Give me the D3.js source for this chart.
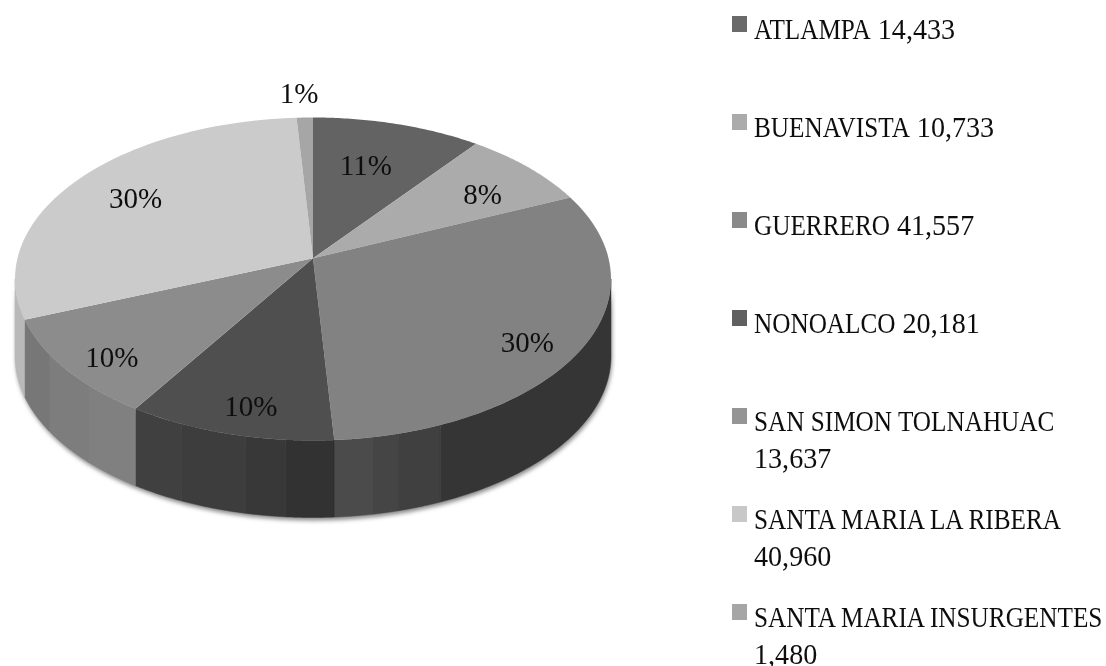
<!DOCTYPE html>
<html>
<head>
<meta charset="utf-8">
<script src="https://cdn.jsdelivr.net/npm/d3@7"></script>
<style>
  html, body { margin: 0; background: #fff; }
  text { font-family: "Liberation Serif", serif; fill: #111; }
</style>
</head>
<body>
<svg id="chart"></svg>
<script>
// values
const districts = ["ATLAMPA", "BUENAVISTA", "GUERRERO", "NONOALCO", "SAN SIMON TOLNAHUAC", "SANTA MARIA LA RIBERA", "SANTA MARIA INSURGENTES"];
const population = [14433, 10733, 41557, 20181, 13637, 40960, 1480];
const percentLabels = [11, 8, 30, 10, 10, 30, 1];
// slice sizes as measured on the drawn pie, they differ a little from the printed labels
const sliceShares = [10.4, 8, 30.6, 10, 10, 30, 1];

const topColors = ["#636363", "#ababab", "#828282", "#505050", "#8c8c8c", "#cbcbcb", "#a6a6a6"];
const legendColors = ["#6a6a6a", "#ababab", "#8a8a8a", "#606060", "#959595", "#c8c8c8", "#a6a6a6"];
// wall facets per slice: [share of the slice where the facet ends, colour]
const wallFacets = [
    [[1, "#555"]],
    [[1, "#777"]],
    [[0.83, "#363636"], [0.90, "#3f3f3f"], [0.94, "#454545"], [1, "#4c4c4c"]],
    [[0.23, "#303030"], [0.42, "#383838"], [0.74, "#3c3c3c"], [1, "#414141"]],
    [[0.31, "#808080"], [0.655, "#7d7d7d"], [1, "#777777"]],
    [[1, "#b9b9b9"]],
    [[1, "#999"]]
];
// label placement: radius on the disc and turn (degrees) away from the slice middle
const labelRadius = [0.665, 0.742, 0.84, 0.85, 0.854, 0.748, 1.204];
const labelTurn = [-1.8, 2.8, 4.7, -1.6, -2.8, 0.1, -0.8];

const width = 1106, height = 666;
const cx = 313, cy = 279, rx = 298, ry = 161.5, depth = 77;
const tilt = -0.128; // moves the pie centre up from the ellipse centre (perspective)
const squeeze = Math.sqrt(1 - tilt * tilt);
const fontSize = 29, nameStretch = 0.87, numberStretch = 0.97;

// disc (angle clockwise from top, radius 0..1) -> screen
const project = (angle, r = 1) => {
    const u = r * Math.sin(angle), v = -r * Math.cos(angle);
    const w = 1 + tilt * v;
    return [cx + rx * u * squeeze / w, cy + ry * (v + tilt) / w];
};
const arcPoints = (a0, a1) => d3.range(0, 61).map(i => project(a0 + (a1 - a0) * i / 60));

const svg = d3.select("#chart").attr("width", width).attr("height", height);
const defs = svg.append("defs");
defs.append("filter").attr("id", "soft").append("feGaussianBlur").attr("stdDeviation", 0.45);
defs.append("filter").attr("id", "shadow").append("feGaussianBlur").attr("stdDeviation", 2);

const line = d3.line();
const slices = d3.pie().sort(null).value((d, i) => sliceShares[i])(districts);

// only the front of the rim shows
const frontFrom = Math.acos(tilt), frontTo = 2 * Math.PI - frontFrom;
const wallPath = (a0, a1) => {
    const pts = arcPoints(a0, a1);
    return line(pts.concat(pts.slice().reverse().map(p => [p[0], p[1] + depth]))) + "Z";
};

const pie = svg.append("g").attr("filter", "url(#soft)");

pie.append("path")
    .attr("d", wallPath(frontFrom, frontTo))
    .attr("transform", "translate(1,3)")
    .attr("fill", "#8a8a8a")
    .attr("filter", "url(#shadow)");

slices.forEach((s, i) => {
    let prev = s.startAngle;
    wallFacets[i].forEach(([end, color]) => {
        const next = s.startAngle + (s.endAngle - s.startAngle) * end;
        const a0 = Math.max(prev, frontFrom), a1 = Math.min(next, frontTo);
        if (a1 > a0) {
            pie.append("path").attr("d", wallPath(a0, a1))
                .attr("fill", color).attr("stroke", color).attr("stroke-width", 0.5);
        }
        prev = next;
    });
});

pie.selectAll("path.top")
    .data(slices)
    .join("path")
    .attr("class", "top")
    .attr("d", d => line([project(0, 0), ...arcPoints(d.startAngle, d.endAngle)]) + "Z")
    .attr("fill", (d, i) => topColors[i]);

const text = svg.append("g").attr("filter", "url(#soft)");

const labelPos = (d, i) => project((d.startAngle + d.endAngle) / 2 + labelTurn[i] * Math.PI / 180, labelRadius[i]);

text.selectAll("text.pct")
    .data(slices)
    .join("text")
    .attr("class", "pct")
    .attr("text-anchor", "middle")
    .attr("font-size", fontSize)
    .attr("x", (d, i) => labelPos(d, i)[0])
    .attr("y", (d, i) => labelPos(d, i)[1] + 10)
    .text((d, i) => percentLabels[i] + "%");

// legend
const legendY = d3.scalePoint().domain(districts).range([16, 604]);
const fmt = d3.format(",");
const legend = text.selectAll("g.item")
    .data(districts)
    .join("g")
    .attr("class", "item")
    .attr("transform", d => `translate(732,${legendY(d)})`);

legend.append("rect")
    .attr("width", 15).attr("height", 16)
    .attr("fill", (d, i) => legendColors[i]);

legend.each(function (d, i) {
    const g = d3.select(this);
    const name = g.append("text")
        .attr("font-size", fontSize)
        .attr("transform", `translate(22,23) scale(${nameStretch},1)`)
        .text(d);
    // long names push the number onto a second line
    const wrap = d.length > 18;
    const numX = wrap ? 22 : 22 + name.node().getComputedTextLength() * nameStretch + 7;
    const numY = wrap ? 60 : 23;
    g.append("text")
        .attr("font-size", fontSize)
        .attr("transform", `translate(${numX},${numY}) scale(${numberStretch},1)`)
        .text(fmt(population[i]));
});
</script>
</body>
</html>
